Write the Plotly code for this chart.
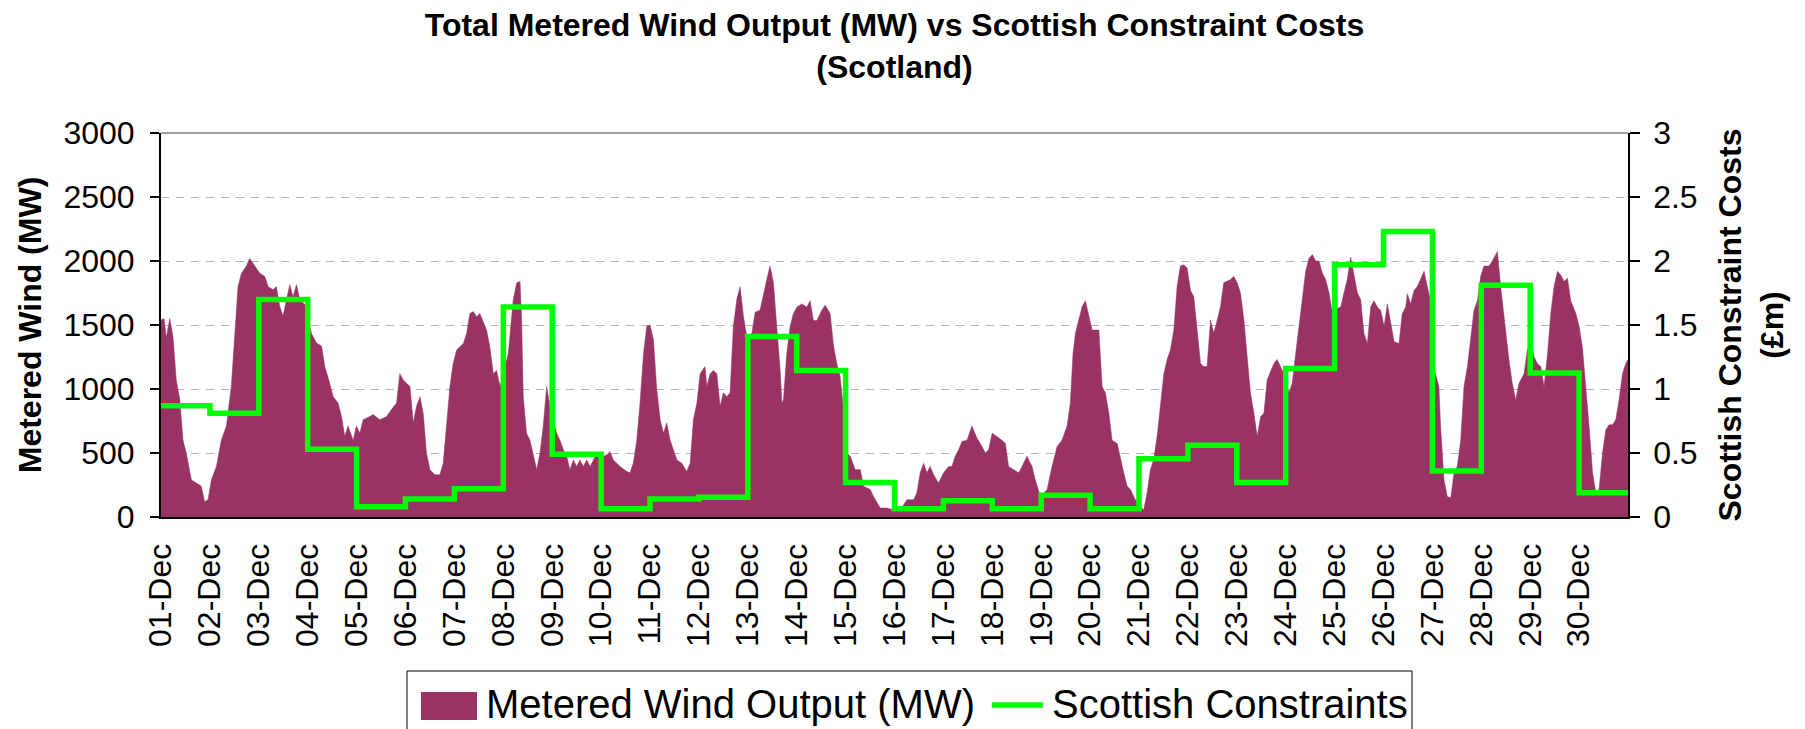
import plotly.graph_objects as go

# ---------------- data ----------------
day_labels = ["%02d-Dec" % d for d in range(1, 31)]
day_start_hours = [24 * i for i in range(30)]

# Scottish constraint costs (GBP m), one value per day
constraint_costs = [0.87, 0.81, 1.70, 0.53, 0.08, 0.14, 0.22, 1.64, 0.49, 0.065,
                    0.14, 0.155, 1.41, 1.145, 0.27, 0.065, 0.127, 0.065, 0.17, 0.065,
                    0.455, 0.56, 0.27, 1.16, 1.97, 2.23, 0.36, 1.81, 1.125, 0.19]

# Metered wind output: hours since 01-Dec 00:00 and MW
wind_hours = [0, 1.5, 2.6, 4.3, 5.9, 7.5, 9.2, 10.8, 12.4, 14.9, 17.4, 19.8, 21.4, 23.1,
              24.7, 27.2, 29.6, 32.1, 34.5, 36.2, 37.8, 39.5, 41.9, 43.5, 46.0,
              48.5, 50.9, 52.6, 55.0, 56.6, 58.3, 59.9, 61.6, 63.2, 64.8, 66.5, 68.1, 71.4,
              73.8, 76.3, 78.8, 80.4, 82.8, 84.5, 86.9, 88.6, 90.2, 91.8, 94.3, 95.9,
              97.6, 99.2, 102.5, 104.1, 107.4, 110.7, 113.1, 115.6, 117.2, 118.9,
              120.5, 122.2, 123.8, 125.4, 127.1, 128.7, 130.3, 132.0, 134.4, 136.9,
              138.5, 140.2, 141.8, 143.4, 145.1, 146.7, 148.4, 150.0, 151.6, 153.3,
              154.9, 156.5, 158.2, 159.8, 161.4, 163.1, 164.7, 166.4, 168.0, 170.4,
              172.9, 174.6, 176.2, 177.0, 177.8, 179.4, 181.1, 182.7, 184.4, 186.0,
              187.6, 189.3, 190.9, 192.5, 194.2, 195.8, 197.5, 199.1, 200.7, 202.4,
              204.0, 205.6, 207.3, 208.9, 210.6, 212.2, 213.8, 215.5, 217.1, 218.7,
              220.4, 222.0, 225.3, 228.6, 230.2, 231.8, 233.5, 235.1, 236.8, 238.4,
              240.0, 241.7, 243.3, 245.0, 246.6, 248.2, 249.9, 251.5, 253.2, 255.6,
              258.0, 259.7, 261.3, 263.0, 264.6, 267.0, 267.9, 269.5, 271.1, 272.8,
              274.4, 276.0, 277.7, 279.3, 280.9, 282.6, 284.2, 285.9, 287.5, 290.0,
              291.6, 294.0, 295.7, 297.3, 298.9, 300.6, 302.2, 303.9, 304.7, 305.5,
              307.1, 308.8, 310.4, 312.1, 314.5, 317.0, 318.6, 320.2, 321.9, 324.3,
              326.0, 328.4, 330.1, 331.7, 333.3, 335.0, 336.6, 338.3, 340.7, 343.2,
              344.8, 348.1, 349.7, 353.0, 356.3, 359.5, 362.8, 366.1, 369.4, 371.0,
              372.6, 374.3, 375.9, 377.5, 379.2, 381.6, 384.1, 386.6, 388.2, 389.8,
              391.5, 393.1, 395.6, 398.0, 400.5, 402.1, 404.6, 406.2, 407.9, 410.3,
              412.8, 414.4, 416.0, 418.5, 421.0, 422.6, 425.0, 427.5, 429.1, 431.6,
              434.9, 437.3, 439.8, 442.2, 444.7, 446.3, 447.6, 448.8, 450.4, 452.1,
              453.7, 455.3, 457.0, 458.6, 460.3, 461.9, 463.5, 465.2, 466.8, 469.3,
              470.9, 472.5, 474.2, 475.8, 478.2, 480.7, 482.3, 484.0, 485.6, 487.2,
              488.9, 490.5, 492.2, 493.8, 495.4, 497.1, 498.7, 500.3, 502.0, 503.6,
              505.3, 506.9, 508.5, 510.2, 511.8, 513.4, 515.1, 516.7, 518.4, 520.0,
              521.6, 523.3, 524.9, 526.5, 528.2, 529.8, 531.5, 533.1, 534.7, 536.4,
              538.0, 539.7, 541.3, 542.9, 544.6, 546.2, 547.8, 549.5, 551.1, 553.6,
              555.2, 556.9, 558.5, 560.1, 561.8, 563.4, 565.1, 566.7, 568.3, 570.0,
              571.6, 573.3, 574.9, 577.3, 579.0, 580.6, 582.2, 583.9, 585.5, 587.2,
              588.8, 590.4, 592.1, 593.7, 595.3, 597.0, 598.6, 600.3, 601.9, 603.5,
              605.2, 607.6, 609.2, 610.9, 611.7, 613.3, 615.0, 616.6, 618.2, 619.9,
              621.5, 623.1, 624.8, 627.2, 628.0, 629.7, 631.3, 633.0, 634.6, 636.2,
              637.9, 639.5, 641.2, 642.8, 644.4, 646.1, 647.7, 649.3, 651.8, 653.4,
              655.9, 657.5, 660.0, 661.6, 663.2, 664.9, 666.5, 669.0, 670.6, 672.3,
              673.9, 675.5, 677.2, 678.8, 680.5, 682.1, 683.7, 685.4, 687.0, 688.6,
              690.3, 691.9, 694.4, 696.0, 697.6, 699.3, 700.9, 702.6, 704.2, 705.8,
              707.5, 709.1, 710.7, 712.4, 714.0, 715.6, 717.3, 718.9, 720.0]

wind_mw = [1540, 1550, 1400, 1550, 1410, 1070, 920, 600, 500, 290, 265, 240, 120, 135,
           290, 395, 600, 710, 1020, 1435, 1800, 1905, 1960, 2020, 1960,
           1905, 1880, 1800, 1775, 1800, 1645, 1570, 1700, 1815, 1720, 1815, 1700, 1645,
           1435, 1360, 1335, 1175, 1045, 940, 890, 785, 630, 710, 600, 710,
           655, 760, 785, 800, 760, 785, 840, 890, 1120, 1070,
           1045, 1020, 735, 865, 940, 810, 500, 370, 330, 330,
           420, 710, 1020, 1200, 1305, 1330, 1355, 1435, 1590, 1605,
           1565, 1590, 1515, 1460, 1330, 1120, 1145, 1020, 1120, 1275,
           1700, 1830, 1840, 1540, 940, 655, 600, 500, 370, 500,
           710, 1020, 865, 760, 655, 600, 525, 475, 370, 445,
           395, 445, 395, 445, 395, 445, 500, 445, 475, 485,
           510, 445, 395, 355, 345, 420, 600, 890, 1275, 1490,
           1500, 1385, 1000, 760, 655, 735, 600, 525, 445, 420,
           355, 420, 760, 890, 1120, 1175, 1020, 1120, 1145, 1120,
           865, 970, 940, 970, 1490, 1700, 1800, 1565, 1410, 1435,
           1600, 1615, 1750, 1855, 1960, 1830, 1490, 1145, 890, 915,
           1275, 1490, 1590, 1640, 1665, 1640, 1690, 1535, 1535, 1615,
           1655, 1590, 1335, 1200, 1100, 840, 500, 475, 370, 370,
           240, 215, 160, 70, 70, 55, 55, 135, 135, 190,
           345, 420, 345, 395, 330, 265, 345, 395, 395, 475,
           525, 590, 600, 710, 615, 575, 500, 525, 655, 630,
           600, 575, 395, 370, 345, 395, 475, 395, 290, 160,
           215, 395, 550, 600, 710, 890, 1275, 1435, 1540, 1645,
           1690, 1565, 1460, 1460, 1460, 1020, 970, 810, 600, 575,
           445, 345, 240, 215, 135, 80, 55, 190, 370, 450,
           630, 890, 1120, 1230, 1305, 1460, 1800, 1960, 1970, 1945,
           1770, 1720, 1465, 1200, 1175, 1175, 1540, 1435, 1540, 1645,
           1830, 1840, 1855, 1880, 1830, 1750, 1540, 1250, 970, 810,
           630, 785, 810, 1070, 1145, 1200, 1230, 1175, 1120, 970,
           1045, 1275, 1490, 1700, 1920, 2020, 2050, 2000, 2000, 1905,
           1855, 1750, 1590, 1630, 1640, 1750, 1855, 2030, 1880, 1750,
           1700, 1435, 1355, 1640, 1690, 1640, 1615, 1490, 1665, 1510,
           1370, 1355, 1590, 1640, 1745, 1665, 1770, 1800, 1855, 1920,
           1800, 1690, 1160, 1020, 710, 290, 160, 150, 345, 395,
           600, 1020, 1175, 1410, 1615, 1690, 1880, 1960, 1960, 2000,
           2075, 1800, 1435, 1225, 1045, 915, 1045, 1120, 1305, 1385,
           1250, 1200, 1175, 1020, 1275, 1590, 1800, 1920, 1890, 1840,
           1865, 1690, 1590, 1490, 1330, 1020, 710, 345, 190, 215,
           500, 680, 720, 720, 760, 915, 1120, 1200, 1230]

wind_ticks = [0, 500, 1000, 1500, 2000, 2500, 3000]
cost_ticks = [0, 0.5, 1, 1.5, 2, 2.5, 3]
cost_tick_text = ["0", "0.5", "1", "1.5", "2", "2.5", "3"]

# ---------------- styling / layout ----------------
FONT = "Liberation Sans, Arial, sans-serif"
PURPLE = "#993366"
GREEN = "#00FF00"
FIG_W, FIG_H = 1805, 729
ML, MR, MT, MB = 161, 177, 133, 212
PW, PH = FIG_W - ML - MR, FIG_H - MT - MB


def px(xp):
    return (xp - ML) / PW


def py(yp):
    return (FIG_H - MB - yp) / PH


fig = go.Figure()
fig.add_trace(go.Scatter(
    x=wind_hours, y=wind_mw, name="Metered Wind Output (MW)",
    mode="lines", fill="tozeroy", fillcolor=PURPLE,
    line=dict(color=PURPLE, width=0.5), showlegend=False))

step_x = day_start_hours + [720]
step_y = constraint_costs + [constraint_costs[-1]]
fig.add_trace(go.Scatter(
    x=step_x, y=step_y, name="Scottish Constraints", yaxis="y2",
    mode="lines", line=dict(color=GREEN, width=5.5, shape="hv"),
    showlegend=False))

shapes = [
    # grey top border of plot area
    dict(type="line", xref="paper", yref="paper", x0=0, x1=1, y0=1, y1=1,
         line=dict(color="#a0a0a0", width=2), layer="above"),
    # legend box
    dict(type="rect", xref="paper", yref="paper", x0=px(407), x1=px(1412),
         y0=py(745), y1=py(671), line=dict(color="black", width=1),
         fillcolor="white"),
    dict(type="rect", xref="paper", yref="paper", x0=px(421), x1=px(477),
         y0=py(720), y1=py(692), line=dict(width=0), fillcolor=PURPLE),
    dict(type="line", xref="paper", yref="paper", x0=px(992), x1=px(1043),
         y0=py(705), y1=py(705), line=dict(color=GREEN, width=5.5)),
]

annotations = [
    dict(text="Metered Wind Output (MW)", xref="paper", yref="paper",
         x=px(484), y=py(704), xanchor="left", yanchor="middle", showarrow=False,
         font=dict(family=FONT, size=40, color="black")),
    dict(text="Scottish Constraints", xref="paper", yref="paper",
         x=px(1050), y=py(704), xanchor="left", yanchor="middle", showarrow=False,
         font=dict(family=FONT, size=40, color="black")),
]

fig.update_layout(
    width=FIG_W, height=FIG_H,
    margin=dict(l=ML, r=MR, t=MT, b=MB, pad=0),
    paper_bgcolor="white", plot_bgcolor="white",
    font=dict(family=FONT, size=32, color="black"),
    title=dict(text="<b>Total Metered Wind Output (MW) vs Scottish Constraint Costs<br>(Scotland)</b>",
               x=0.5, xanchor="center", xref="paper", yref="container",
               y=0.95, yanchor="top", font=dict(family=FONT, size=32, color="black")),
    xaxis=dict(range=[0, 720], tickmode="array", tickvals=day_start_hours,
               ticktext=day_labels, tickangle=-90, showgrid=False, zeroline=False,
               showline=True, linecolor="black", linewidth=2, ticks="",
               ticklabelstandoff=12,
               tickfont=dict(family=FONT, size=32)),
    yaxis=dict(range=[0, 3000], tickmode="array", tickvals=wind_ticks,
               showgrid=True, gridcolor="#b4b4b4", griddash="8px,7px", gridwidth=1,
               zeroline=False, showline=True, linecolor="black", linewidth=2,
               ticks="outside", ticklen=9, tickwidth=1.5, tickcolor="black",
               ticklabelstandoff=9,
               tickfont=dict(family=FONT, size=32),
               title=dict(text="<b>Metered Wind (MW)</b>", font=dict(family=FONT, size=32),
                          standoff=12)),
    yaxis2=dict(range=[0, 3], overlaying="y", side="right", tickmode="array",
                tickvals=cost_ticks, ticktext=cost_tick_text, showgrid=False,
                zeroline=False, showline=True, linecolor="black", linewidth=1.5,
                ticks="outside", ticklen=10, tickwidth=1.5, tickcolor="black",
                ticklabelstandoff=7,
                tickfont=dict(family=FONT, size=32),
                title=dict(text="<b>Scottish Constraint Costs<br>(£m)</b>",
                           font=dict(family=FONT, size=32), standoff=22)),
    shapes=shapes, annotations=annotations,
)

fig.write_html("out.html", config={"displayModeBar": False},
               post_script="document.body.style.margin='0';")
